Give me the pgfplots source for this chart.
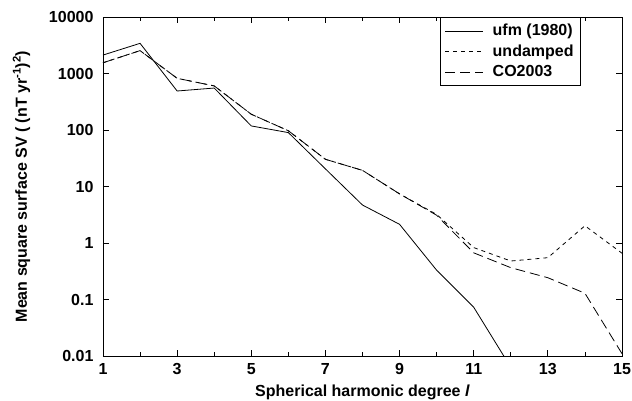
\documentclass[border=0pt]{standalone}
\usepackage{fontspec}
\setmainfont{Liberation Sans}
\usepackage{pgfplots}
\pgfplotsset{compat=1.18}
\newcommand\lf{\fontsize{16}{19}\selectfont\bfseries}
\begin{document}
\begin{tikzpicture}
\begin{axis}[
  scale only axis,
  width=519pt, height=339pt,
  xmin=1, xmax=15,
  ymode=log, ymin=0.01, ymax=10000,
  xtick={1,3,5,7,9,11,13,15},
  xticklabels={1,3,5,7,9,11,13,15},
  minor xtick={2,4,6,8,10,12,14},
  ytick={0.01,0.1,1,10,100,1000,10000},
  yticklabels={0.01,0.1,1,10,100,1000,10000},
  yminorticks=false,
  tick align=inside,
  major tick length=6pt,
  minor tick length=4pt,
  tick style={black, line width=0.8pt},
  axis line style={line width=0.8pt},
  /pgf/number format/assume math mode=true,
  tick label style={font=\lf},
  label style={font=\lf},
  xticklabel style={yshift=-4pt},
  yticklabel style={xshift=-6pt},
  xlabel={Spherical harmonic degree \textit{l}},
  ylabel={Mean square surface SV ( (nT yr\textsuperscript{-1})\textsuperscript{2})},
  xlabel style={yshift=-3pt},
  ylabel style={yshift=12pt},
  legend style={at={(0.921,1)}, anchor=north east, draw=black, line width=0.8pt,
    font=\lf, row sep=3.5pt, inner xsep=5pt, inner ysep=5pt,
    /tikz/every odd column/.append style={column sep=7pt}},
  legend cell align=left,
  legend image code/.code={\draw[#1] (0pt,0pt) -- (38pt,0pt);},
]
\addplot[black, line width=0.8pt] coordinates {
(1,2120) (2,3420) (3,490) (4,553) (5,118) (6,90) (7,20.5) (8,4.7) (9,2.14) (10,0.33) (11,0.073) (12,0.0063)};
\addlegendentry{ufm (1980)}
\addplot[black, line width=0.8pt, dash pattern=on 4pt off 4pt] coordinates {
(1,1550) (2,2540) (3,822) (4,603) (5,190) (6,97) (7,30.3) (8,19.3) (9,7.4) (10,3.2) (11,0.83) (12,0.48) (13,0.55) (14,2.02) (15,0.66)};
\addlegendentry{undamped}
\addplot[black, line width=0.8pt, dash pattern=on 10pt off 5pt] coordinates {
(1,1550) (2,2540) (3,822) (4,603) (5,190) (6,97) (7,30.3) (8,19.3) (9,7.4) (10,3.1) (11,0.67) (12,0.366) (13,0.243) (14,0.129) (15,0.011)};
\addlegendentry{CO2003}
\end{axis}
\pgfresetboundingbox
\path ([shift={(-103pt,-44pt)}]current axis.south west) rectangle ([shift={(10pt,17pt)}]current axis.north east);
\end{tikzpicture}
\end{document}
